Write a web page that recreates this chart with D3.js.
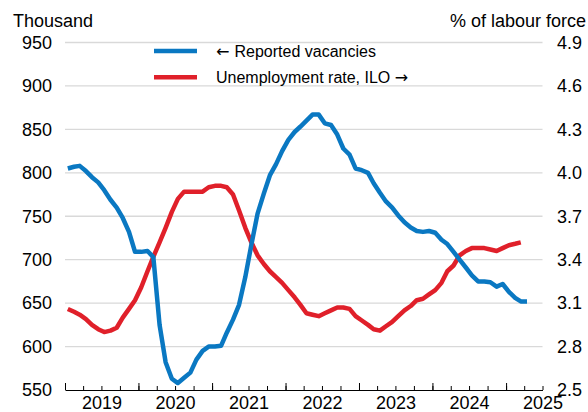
<!DOCTYPE html>
<html>
<head>
<meta charset="utf-8">
<script src="https://cdn.jsdelivr.net/npm/d3@7"></script>
<style>
  body { margin: 0; background: #fff; }
  svg { display: block; font-family: "Liberation Sans", Arial, sans-serif; }
</style>
</head>
<body>
<div id="chart"></div>
<script>
// monthly data, Jan 2019 onwards
const startMonth = "2019-01-15";

// reported vacancies, thousand (left axis), Jan 2019 - Apr 2025
const vacancies = [
  805, 807, 808, 802, 795, 789, 780, 769, 760, 748, 732, 709,
  709, 710, 703, 625, 582, 563, 558, 564, 570, 585, 595, 600,
  600, 601, 616, 631, 648, 680, 717, 753, 776, 797, 810, 825,
  838, 847, 853, 860, 867, 867, 857, 855, 844, 828, 821, 805,
  803, 800, 788, 777, 767, 760, 751, 743, 737, 733, 732, 733,
  731, 723, 718, 709, 700, 691, 682, 675, 675, 674, 669, 672,
  663, 656, 652, 652
];

// unemployment rate ILO, % of labour force (right axis), Jan 2019 - Mar 2025
const unemployment = [
  3.06, 3.04, 3.02, 2.99, 2.95, 2.92, 2.90, 2.91, 2.93, 3.00, 3.06, 3.12,
  3.21, 3.32, 3.42, 3.52, 3.62, 3.73, 3.82, 3.87, 3.87, 3.87, 3.87, 3.90,
  3.91, 3.91, 3.90, 3.85, 3.74, 3.62, 3.52, 3.43, 3.37, 3.32, 3.28, 3.24,
  3.19, 3.14, 3.09, 3.03, 3.02, 3.01, 3.03, 3.05, 3.07, 3.07, 3.06, 3.01,
  2.98, 2.95, 2.92, 2.91, 2.94, 2.97, 3.01, 3.05, 3.08, 3.12, 3.13, 3.16,
  3.19, 3.24, 3.32, 3.36, 3.43, 3.46, 3.48, 3.48, 3.48, 3.47, 3.46, 3.48,
  3.50, 3.51, 3.52
];

const leftTicks = [550, 600, 650, 700, 750, 800, 850, 900, 950];
const rightTicks = [2.5, 2.8, 3.1, 3.4, 3.7, 4.0, 4.3, 4.6, 4.9];
const yearLabels = [2019, 2020, 2021, 2022, 2023, 2024, 2025];

const legendItems = [
  { pre: "\u2190 ", label: "Reported vacancies", post: "", color: "#0a78c2" },
  { pre: "", label: "Unemployment rate, ILO ", post: "\u2192", color: "#e0202a" }
];

const width = 588;
const height = 412;
const plot = { left: 65, right: 542.5, top: 42.5, bottom: 390 };

const svg = d3.select("#chart").append("svg")
  .attr("width", width)
  .attr("height", height);

const t0 = d3.utcParse("%Y-%m-%d")(startMonth);
const monthDate = i => d3.utcMonth.offset(t0, i);

const x = d3.scaleUtc()
  .domain([new Date(Date.UTC(2019, 0, 1)), new Date(Date.UTC(2025, 6, 1))])
  .range([plot.left, plot.right]);

const yL = d3.scaleLinear().domain([550, 950]).range([plot.bottom, plot.top]);
const yR = d3.scaleLinear().domain([2.5, 4.9]).range([plot.bottom, plot.top]);

// gridlines
svg.append("g")
  .selectAll("line")
  .data(leftTicks.slice(1))
  .join("line")
  .attr("x1", plot.left)
  .attr("x2", plot.right)
  .attr("y1", d => yL(d))
  .attr("y2", d => yL(d))
  .attr("stroke", "#d9d9d9")
  .attr("stroke-width", 1.3);

// left tick labels
svg.append("g")
  .selectAll("text")
  .data(leftTicks)
  .join("text")
  .attr("x", 52)
  .attr("y", d => yL(d))
  .attr("dy", "0.35em")
  .attr("text-anchor", "end")
  .attr("font-size", "18px")
  .attr("fill", "#000")
  .text(d => d);

// right tick labels
svg.append("g")
  .selectAll("text")
  .data(rightTicks)
  .join("text")
  .attr("x", 557)
  .attr("y", d => yR(d))
  .attr("dy", "0.35em")
  .attr("text-anchor", "start")
  .attr("font-size", "18px")
  .attr("fill", "#000")
  .text(d => d.toFixed(1));

// axis titles
svg.append("text")
  .attr("x", 13)
  .attr("y", 27)
  .attr("font-size", "18px")
  .text("Thousand");

svg.append("text")
  .attr("x", 586)
  .attr("y", 27)
  .attr("text-anchor", "end")
  .attr("font-size", "18px")
  .text("% of labour force");

// x axis: quarterly minor ticks, yearly major ticks, labels mid-year
const quarters = d3.utcMonth.every(3).range(x.domain()[0], new Date(Date.UTC(2025, 7, 1)));
const years = quarters.filter(d => d.getUTCMonth() === 0);
const julys = yearLabels.map(yr => new Date(Date.UTC(yr, 6, 1)));

svg.append("g")
  .attr("transform", `translate(0,${plot.bottom})`)
  .call(d3.axisBottom(x).tickValues(quarters).tickSize(-4).tickSizeOuter(0).tickFormat(""));

const xMajor = svg.append("g")
  .attr("transform", `translate(0,${plot.bottom})`)
  .call(d3.axisBottom(x).tickValues(years).tickSize(-7).tickSizeOuter(0).tickFormat(""));
xMajor.select(".domain").remove();

const xLabels = svg.append("g")
  .attr("transform", `translate(0,${plot.bottom})`)
  .call(d3.axisBottom(x).tickValues(julys).tickSize(0).tickPadding(6).tickFormat(d3.utcFormat("%Y")));
xLabels.select(".domain").remove();
xLabels.selectAll("text")
  .attr("font-size", "18px")
  .attr("font-family", "Liberation Sans, Arial, sans-serif")
  .attr("fill", "#000");

svg.selectAll(".tick line, .domain")
  .attr("stroke", "#000")
  .attr("stroke-width", 1);

// lines
const vacLine = d3.line()
  .x((d, i) => x(monthDate(i)))
  .y(d => yL(d));

const unempLine = d3.line()
  .x((d, i) => x(monthDate(i)))
  .y(d => yR(d));

svg.append("path")
  .datum(unemployment)
  .attr("fill", "none")
  .attr("stroke", legendItems[1].color)
  .attr("stroke-width", 4.5)
  .attr("stroke-linejoin", "round")
  .attr("d", unempLine);

svg.append("path")
  .datum(vacancies)
  .attr("fill", "none")
  .attr("stroke", legendItems[0].color)
  .attr("stroke-width", 4.5)
  .attr("stroke-linejoin", "round")
  .attr("d", vacLine);

// legend
const legend = svg.append("g");
legendItems.forEach((item, i) => {
  const ly = 51 + i * 26.3;
  legend.append("line")
    .attr("x1", 154)
    .attr("x2", 197)
    .attr("y1", ly)
    .attr("y2", ly)
    .attr("stroke", item.color)
    .attr("stroke-width", 4.5);
  const t = legend.append("text")
    .attr("x", 216)
    .attr("y", ly)
    .attr("dy", "0.35em")
    .attr("font-size", "16px");
  if (item.pre) t.append("tspan").attr("font-family", "DejaVu Sans").text(item.pre);
  t.append("tspan").text(item.label);
  if (item.post) t.append("tspan").attr("font-family", "DejaVu Sans").text(item.post);
});
</script>
</body>
</html>
